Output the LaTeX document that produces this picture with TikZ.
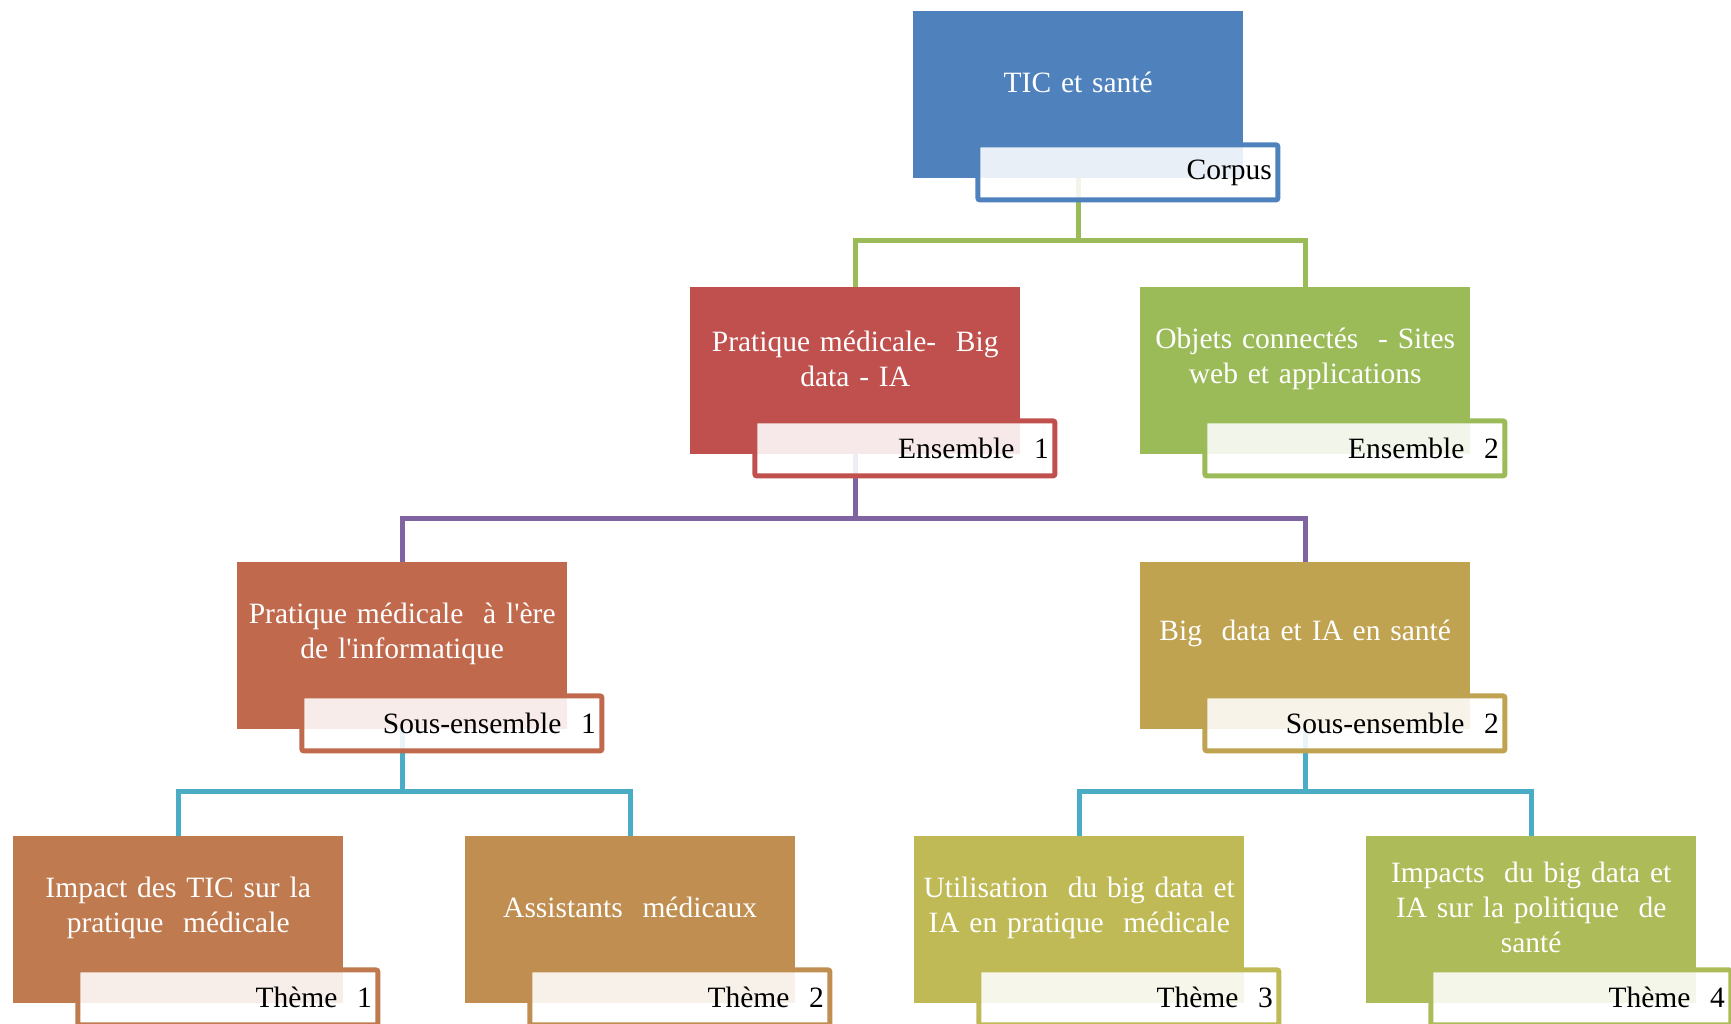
\documentclass[tikz,border=0pt]{standalone}
\usepackage{fontspec}
\setmainfont{Liberation Serif}
\usetikzlibrary{calc,positioning}
\definecolor{CorpusBlue}{HTML}{4F81BD}
\definecolor{EnsRed}{HTML}{C0504D}
\definecolor{EnsGreen}{HTML}{9BBB59}
\definecolor{SousBrick}{HTML}{C0694D}
\definecolor{SousOchre}{HTML}{BFA350}
\definecolor{ThemeOne}{HTML}{BF7B4F}
\definecolor{ThemeTwo}{HTML}{BF8E50}
\definecolor{ThemeThree}{HTML}{BFB956}
\definecolor{ThemeFour}{HTML}{AEBB59}
\definecolor{LinkGreen}{HTML}{9BBB59}
\definecolor{LinkPurple}{HTML}{8064A2}
\definecolor{LinkCyan}{HTML}{4BACC6}
\pgfdeclarelayer{background}
\pgfsetlayers{background,main}
\tikzset{
  levelbox/.style={anchor=north west,minimum width=330pt,minimum height=167pt,
    inner sep=0pt,draw=none},
  boxtext/.style={text=white,align=center,text width=330pt,inner sep=0pt,
    font=\fontsize{29.5}{35}\selectfont},
  tagbox/.style={anchor=south east,line width=5pt,rounded corners=2pt,
    fill=white,fill opacity=0.88,text opacity=1,minimum width=300pt,
    minimum height=55pt,inner xsep=6pt,inner ysep=0pt,align=right,
    text width=288pt,font=\fontsize{29.5}{32}\selectfont},
  link/.style={line width=5pt}
}
\begin{document}
\begin{tikzpicture}[x=1pt,y=-1pt]

        \useasboundingbox (0,0) rectangle (1731,1024);

        % boxes
        \node[levelbox,fill=CorpusBlue] (corpus) at (913,11) {};
        \node[levelbox,fill=EnsRed] (ens1) at (690,287) {};
        \node[levelbox,fill=EnsGreen] (ens2) at (1140,287) {};
        \node[levelbox,fill=SousBrick] (sous1) at (237,562) {};
        \node[levelbox,fill=SousOchre] (sous2) at (1140,562) {};
        \node[levelbox,fill=ThemeOne] (th1) at (13,836) {};
        \node[levelbox,fill=ThemeTwo] (th2) at (465,836) {};
        \node[levelbox,fill=ThemeThree] (th3) at (914,836) {};
        \node[levelbox,fill=ThemeFour] (th4) at (1366,836) {};

        % texts
        \node[boxtext] (corpusT) at ($(corpus.center)+(0,-12)$) {TIC et santé};
        \node[boxtext] (ens1T) at ($(ens1.center)+(0,-12)$)
          {Pratique médicale-\ \ Big\\data - IA};
        \node[boxtext] (ens2T) at ($(ens2.center)+(0,-12)$)
          {Objets connectés\ \ - Sites\\web et applications};
        \node[boxtext] (sous1T) at ($(sous1.center)+(0,-12)$)
          {Pratique médicale\ \ à l\textquotesingle ère\\de l\textquotesingle informatique};
        \node[boxtext] (sous2T) at ($(sous2.center)+(0,-12)$)
          {Big\ \ data et IA en santé};
        \node[boxtext] (th1T) at ($(th1.center)+(0,-12)$)
          {Impact\ des TIC sur\ la\\pratique\ \ médicale};
        \node[boxtext] (th2T) at ($(th2.center)+(0,-12)$)
          {Assistants\ \ médicaux};
        \node[boxtext] (th3T) at ($(th3.center)+(0,-12)$)
          {Utilisation\ \ du big\ data et\\IA en pratique\ \ médicale};
        \node[boxtext] (th4T) at ($(th4.center)+(0,-12)$)
          {Impacts\ \ du big\ data et\\IA sur\ la politique\ \ de\\santé};

        % connectors
        \begin{pgfonlayer}{background}
          \draw[link,LinkGreen] (corpus.south) -- ++(0,62) -| (ens1.north);
          \draw[link,LinkGreen] (corpus.south) -- ++(0,62) -| (ens2.north);
          \draw[link,LinkPurple] (ens1.south) -- ++(0,64) -| (sous1.north);
          \draw[link,LinkPurple] (ens1.south) -- ++(0,64) -| (sous2.north);
          \draw[link,LinkCyan] (sous1.south) -- ++(0,62) -| (th1.north);
          \draw[link,LinkCyan] (sous1.south) -- ++(0,62) -| (th2.north);
          \draw[link,LinkCyan] (sous2.south) -- ++(0,62) -| (th3.north);
          \draw[link,LinkCyan] (sous2.south) -- ++(0,62) -| (th4.north);
        \end{pgfonlayer}

        % tags
        \node[tagbox,draw=CorpusBlue] (corpusL) at ($(corpus.south east)+(37,24)$) {Corpus};
        \node[tagbox,draw=EnsRed] (ens1L) at ($(ens1.south east)+(37,24)$) {Ensemble\ \ 1};
        \node[tagbox,draw=EnsGreen] (ens2L) at ($(ens2.south east)+(37,24)$) {Ensemble\ \ 2};
        \node[tagbox,draw=SousBrick] (sous1L) at ($(sous1.south east)+(37,24)$) {Sous-ensemble\ \ 1};
        \node[tagbox,draw=SousOchre] (sous2L) at ($(sous2.south east)+(37,24)$) {Sous-ensemble\ \ 2};
        \node[tagbox,draw=ThemeOne] (th1L) at ($(th1.south east)+(37,24)$) {Thème\ \ 1};
        \node[tagbox,draw=ThemeTwo] (th2L) at ($(th2.south east)+(37,24)$) {Thème\ \ 2};
        \node[tagbox,draw=ThemeThree] (th3L) at ($(th3.south east)+(37,24)$) {Thème\ \ 3};
        \node[tagbox,draw=ThemeFour] (th4L) at ($(th4.south east)+(37,24)$) {Thème\ \ 4};

      \end{tikzpicture}
\end{document}
